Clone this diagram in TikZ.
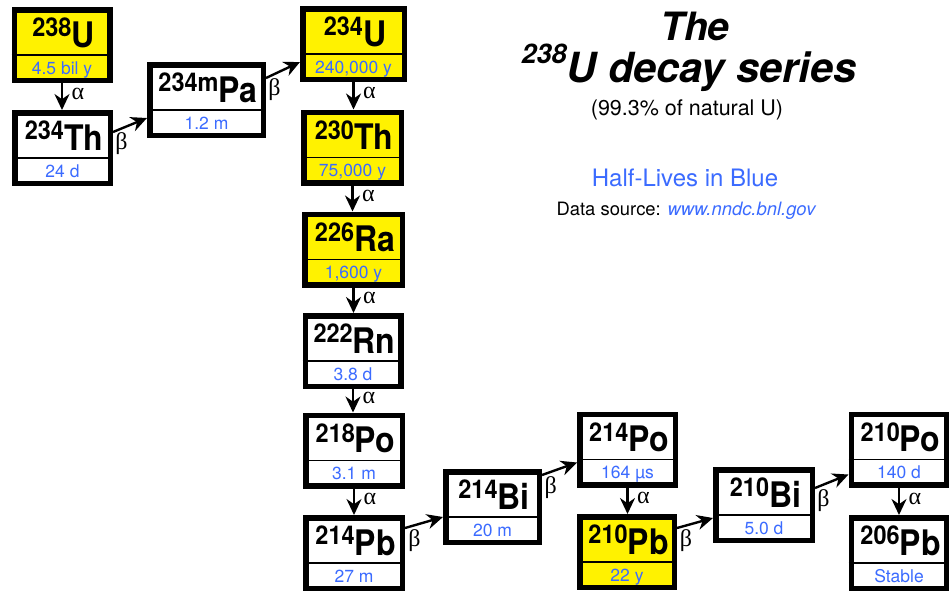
\documentclass[tikz,border=0pt]{standalone}
\usepackage{fontspec}
\setmainfont{TeX Gyre Heros}
\newfontfamily\greekfont{Liberation Serif}
\usetikzlibrary{arrows.meta}
\definecolor{lifeblue}{RGB}{59,107,255}

\begin{document}
\begin{tikzpicture}[x=1pt, y=-1pt]
        \tikzstyle{nuclide}=[draw, line width=5.5pt, minimum height=70.5pt, inner sep=0pt]
        \tikzstyle{decay}=[line width=2.4pt, -{Stealth[length=16pt, width=15pt]}]
        \tikzstyle{mass}=[anchor=base, inner sep=0pt, font=\bfseries]
        \tikzstyle{life}=[anchor=base, inner sep=0pt, text=lifeblue, font=\fontsize{17.5}{18}\selectfont]
        \tikzstyle{greek}=[font=\greekfont\fontsize{24}{24}\selectfont]

        \useasboundingbox (0,0) rectangle (949,590);

        % Draw nuclide boxes
        \foreach \nm/\cx/\cy/\bw/\ms/\el/\hlife/\col in {
            u238/62/45/95.5/238/U/4.5 bil y/yellow,
            th234/62.5/148/95.5/234/Th/24 d/white,
            pa234/206.5/100/113.5/234m/Pa/1.2 m/white,
            u234/353.5/44/101.5/234/U/{240,000 y}/yellow,
            th230/352.5/147.5/97.5/230/Th/{75,000 y}/yellow,
            ra226/353.5/249.5/97.5/226/Ra/{1,600 y}/yellow,
            rn222/353/351/95.5/222/Rn/3.8 d/white,
            po218/354/450.5/96.5/218/Po/3.1 m/white,
            pb214/354/553/96.5/214/Pb/27 m/white,
            bi214/492.5/507/93.5/214/Bi/20 m/white,
            po214/627.5/449.5/95.5/214/Po/164 µs/white,
            pb210/627/552/94.5/210/Pb/22 y/yellow,
            bi210/764/505/96.5/210/Bi/5.0 d/white,
            po210/899/449.5/95.5/210/Po/140 d/white,
            pb206/899/553/95.5/206/Pb/Stable/white} {
            \node[nuclide, minimum width=\bw pt, fill=\col] (\nm) at (\cx,\cy) {};
            \draw[line width=1.5pt] ([yshift=-10pt]\nm.west) -- ([yshift=-10pt]\nm.east);
            \node[mass] (\nm-name) at ([xshift=1.5pt, yshift=-2pt]\nm.center)
                {\scalebox{1}[1.1]{{\fontsize{23.5}{24}\selectfont\raisebox{9.5pt}{\ms}}{\fontsize{32}{32}\selectfont\el}}};
            \node[life] (\nm-hl) at ([yshift=-29pt]\nm.center) {\hlife};
        }

        % Alpha decays (straight down)
        \foreach \a/\b in {u238/th234, u234/th230, th230/ra226, ra226/rn222,
                           rn222/po218, po218/pb214, po214/pb210, po210/pb206} {
            \draw[decay] (\a.south) -- (\a.south |- \b.north)
                node[greek, right=5pt, pos=0.4] {α};
        }

        % Beta decays (up to the right)
        \foreach \a/\b/\sa/\sb in {th234/pa234/16/-18, pa234/u234/22/-18,
                                   pb214/bi214/25/-10, bi214/po214/32/-13,
                                   pb210/bi210/24/-13, bi210/po210/17/-25} {
            \draw[decay] ([yshift=\sa pt]\a.east) -- ([yshift=\sb pt]\b.west)
                node[greek, below, pos=0.25] {β};
        }

        % Title and notes
        \node[anchor=base, font=\fontsize{39}{39}\selectfont\bfseries\itshape] (title) at (695,40) {The};
        \node[anchor=base, font=\fontsize{41.5}{42}\selectfont\bfseries\itshape] (series) at (689,82)
            {{\fontsize{27}{27}\selectfont\raisebox{19pt}{238}}U decay series};
        \node[anchor=base, font=\fontsize{21.5}{22}\selectfont] (share) at (687,115) {(99.3\% of natural U)};
        \node[anchor=base, text=lifeblue, font=\fontsize{24}{24}\selectfont] (key) at (685,186) {Half-Lives in Blue};
        \node[anchor=base, font=\fontsize{18.4}{19}\selectfont] (source) at (686,215)
            {Data source: \textcolor{lifeblue}{\itshape www.nndc.bnl.gov}};
\end{tikzpicture}
\end{document}
